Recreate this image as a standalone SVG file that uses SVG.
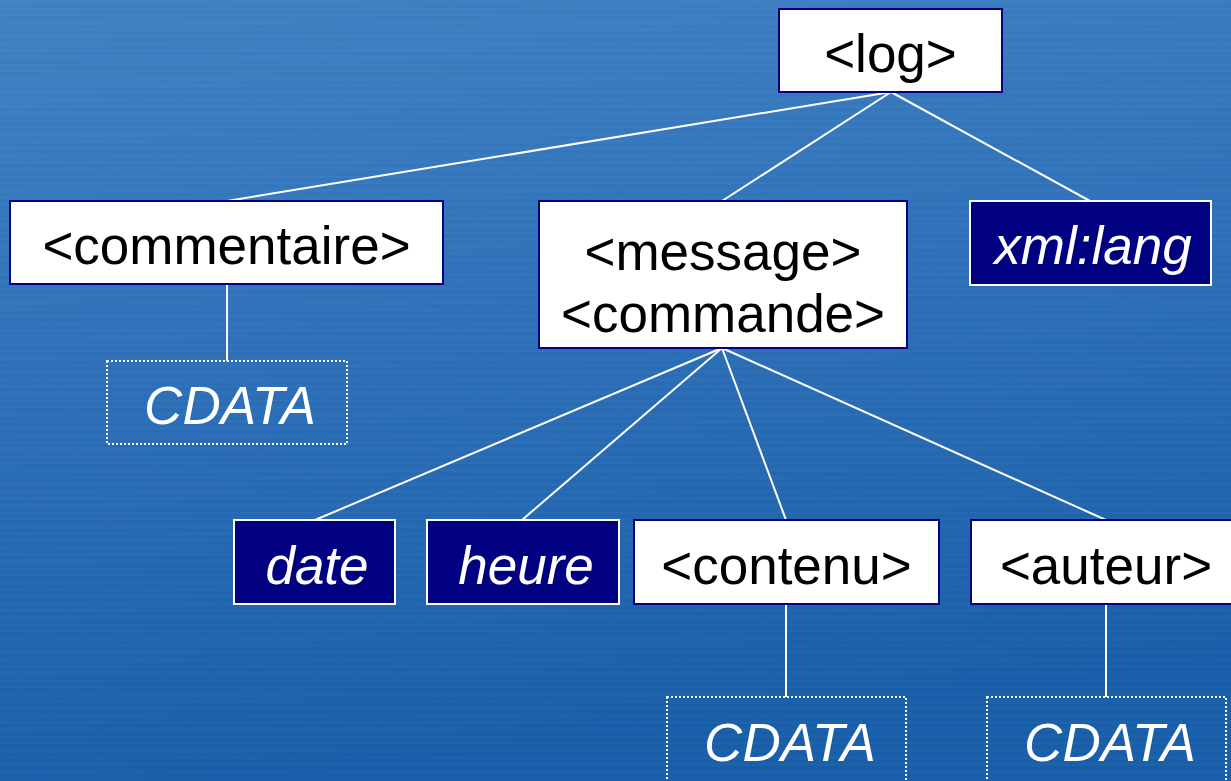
<svg xmlns="http://www.w3.org/2000/svg" width="1231" height="781" viewBox="0 0 1231 781">
<defs>
<linearGradient id="bg" x1="0" y1="0" x2="0.2" y2="1">
<stop offset="0" stop-color="#4282c3"/>
<stop offset="0.5" stop-color="#2d70b8"/>
<stop offset="1" stop-color="#1a5fa9"/>
</linearGradient>
<pattern id="streaks" width="1231" height="7" patternUnits="userSpaceOnUse">
<rect x="0" y="1" width="1231" height="1" fill="#ffffff" opacity="0.03"/>
<rect x="0" y="4" width="1231" height="1" fill="#000040" opacity="0.03"/>
</pattern>
<style>
.el{fill:#ffffff;stroke:#000080;stroke-width:2}
.at{fill:#000080;stroke:#ffffff;stroke-width:2}
.cd{fill:none;stroke:#ffffff;stroke-width:2;stroke-dasharray:2 2}
.tb{font-family:"Liberation Sans",Arial,sans-serif;font-size:53px;fill:#000000;text-anchor:middle}
.tw{font-family:"Liberation Sans",Arial,sans-serif;font-size:53px;fill:#ffffff;text-anchor:middle;font-style:italic}
.cn line{stroke:#ffffff;stroke-width:2}
</style>
</defs>
<rect width="1231" height="781" fill="url(#bg)"/>
<rect width="1231" height="781" fill="url(#streaks)"/>
<g class="cn" id="connectors">
<line x1="891" y1="92" x2="227" y2="201"/>
<line x1="891" y1="92" x2="722" y2="201"/>
<line x1="891" y1="92" x2="1090" y2="201"/>
<line x1="227" y1="284" x2="227" y2="361"/>
<line x1="722" y1="348" x2="315" y2="520"/>
<line x1="722" y1="348" x2="522" y2="520"/>
<line x1="722" y1="348" x2="786" y2="520"/>
<line x1="722" y1="348" x2="1106" y2="520"/>
<line x1="786" y1="604" x2="786" y2="697"/>
<line x1="1106" y1="604" x2="1106" y2="697"/>
</g>
<g id="log"><rect class="el" x="779" y="9" width="223" height="83"/><text class="tb" x="890.5" y="72">&lt;log&gt;</text></g>
<g id="commentaire"><rect class="el" x="10" y="201" width="433" height="83"/><text class="tb" x="226.5" y="264">&lt;commentaire&gt;</text></g>
<g id="message"><rect class="el" x="539" y="201" width="368" height="147"/><text class="tb" x="723" y="270">&lt;message&gt;</text><text class="tb" x="723" y="332">&lt;commande&gt;</text></g>
<g id="xmllang"><rect class="at" x="970" y="201" width="241" height="84"/><text class="tw" x="1093" y="264">xml:lang</text></g>
<g id="cdata1"><rect class="cd" x="107" y="361" width="240" height="83"/><text class="tw" x="230" y="424">CDATA</text></g>
<g id="date"><rect class="at" x="234" y="520" width="161" height="84"/><text class="tw" x="317" y="584">date</text></g>
<g id="heure"><rect class="at" x="427" y="520" width="192" height="84"/><text class="tw" x="526" y="584">heure</text></g>
<g id="contenu"><rect class="el" x="634" y="520" width="305" height="84"/><text class="tb" x="786.5" y="584">&lt;contenu&gt;</text></g>
<g id="auteur"><rect class="el" x="971" y="520" width="270" height="84"/><text class="tb" x="1106" y="584">&lt;auteur&gt;</text></g>
<g id="cdata2"><rect class="cd" x="667" y="697" width="239" height="90"/><text class="tw" x="790" y="761">CDATA</text></g>
<g id="cdata3"><rect class="cd" x="987" y="697" width="239" height="90"/><text class="tw" x="1110" y="761">CDATA</text></g>
</svg>
